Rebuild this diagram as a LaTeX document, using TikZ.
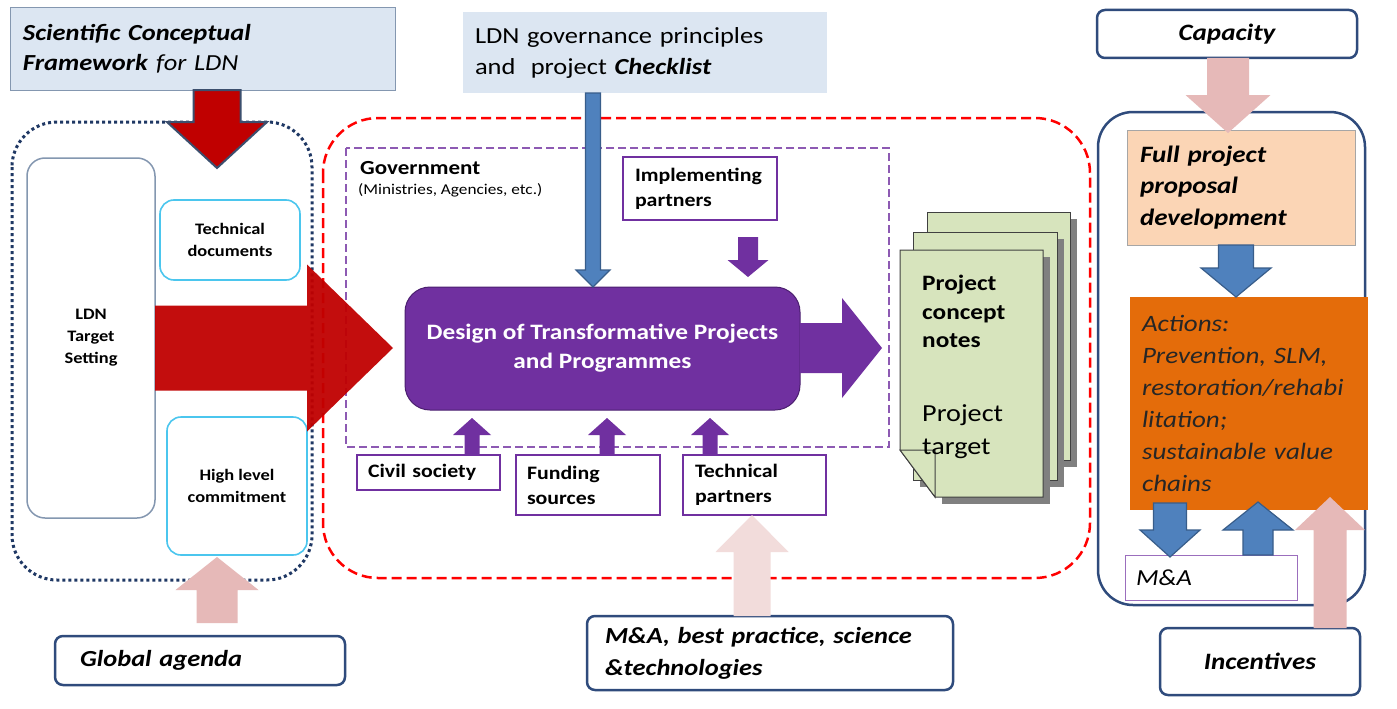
\documentclass[tikz,border=0pt]{standalone}
\usepackage{fontspec}
\setmainfont{Carlito}[FakeStretch=1.15]
\definecolor{navy}{HTML}{2F4B7C}
\definecolor{purp}{HTML}{7030A0}
\definecolor{purpdark}{HTML}{4B1F6F}
\definecolor{darkred}{HTML}{C00000}
\definecolor{pinkA}{HTML}{E6B9B8}
\definecolor{pinkB}{HTML}{F2DCDB}
\definecolor{blueA}{HTML}{4F81BD}
\definecolor{blueB}{HTML}{385D8A}
\definecolor{orangeA}{HTML}{E46C0A}
\definecolor{peach}{HTML}{FBD5B5}
\definecolor{greenA}{HTML}{D7E4BD}
\definecolor{cyanA}{HTML}{4BC6EE}
\definecolor{lightblue}{HTML}{DCE6F2}
\definecolor{grayblue}{HTML}{8497B0}
\definecolor{dotnavy}{HTML}{1F3864}
\definecolor{slateA}{HTML}{3C4F6E}
\newcommand\fs[2]{\fontsize{#1}{#2}\selectfont}
% vertical block arrow: style, cx, ystart, ybase, ytip, shaft half width, head half width
\newcommand\varrow[7]{\path[#1] ({#2-#6},#3) -- ({#2+#6},#3) -- ({#2+#6},#4) -- ({#2+#7},#4) -- (#2,#5) -- ({#2-#7},#4) -- ({#2-#6},#4) -- cycle;}
% horizontal block arrow: style, cy, xstart, xbase, xtip, shaft half width, head half width
\newcommand\harrow[7]{\path[#1] (#3,{#2-#6}) -- (#4,{#2-#6}) -- (#4,{#2-#7}) -- (#5,#2) -- (#4,{#2+#7}) -- (#4,{#2+#6}) -- (#3,{#2+#6}) -- cycle;}
\tikzset{
  navybox/.style={draw=navy, line width=2.5pt, rounded corners=8pt, fill=white},
  purpbox/.style={draw=purp, line width=2pt, fill=white},
  cyanbox/.style={draw=cyanA, line width=1.6pt, rounded corners=14pt, fill=white},
  redarrow/.style={fill=darkred, draw=slateA, line width=2pt},
  redbig/.style={fill=darkred, fill opacity=0.95},
  bluearrow/.style={fill=blueA, draw=blueB, line width=1.2pt},
  purparrow/.style={fill=purp},
  pinkarrow/.style={fill=pinkA},
  pinkarrowL/.style={fill=pinkB},
  page/.style={fill=greenA, draw=black!75, line width=1pt},
  shadow/.style={fill=black!50},
}
\begin{document}
\begin{tikzpicture}[x=1pt,y=-1pt]
\useasboundingbox (0,0) rectangle (1397,709);
\fill[white] (0,0) rectangle (1397,709);

% ---- containers
\draw[dotnavy, line width=3pt, dash pattern=on 3pt off 3pt, rounded corners=45pt] (12,122) rectangle (312,580);
\draw[red, line width=2.5pt, dash pattern=on 10pt off 5pt, rounded corners=55pt] (323,118) rectangle (1090,578);
\draw[purp!80, line width=2pt, dash pattern=on 8pt off 4pt] (346,148) rectangle (889,447);
\draw[navy, line width=2.5pt, rounded corners=35pt] (1098,112) rectangle (1365,605);

% ---- top boxes
\node[draw=grayblue, fill=lightblue, line width=1pt, minimum width=385pt, minimum height=82pt,
      text width=359pt, inner xsep=13pt, align=left, font=\fs{23}{30}] (sci) at (202.5,49)
  {\textbf{\textit{Scientific Conceptual}}\\\textbf{\textit{Framework}} \textit{for LDN}};
\node[fill=lightblue, minimum width=364pt, minimum height=81pt,
      text width=340pt, inner xsep=12pt, align=left, font=\fs{23}{31}] (gov) at (645,52.5)
  {LDN governance principles\\and\ \ project \textbf{\textit{Checklist}}};
\node[navybox, minimum width=260pt, minimum height=48pt, font=\fs{23.5}{26}\bfseries\itshape] (cap) at (1227,34) {Capacity};

% ---- left group
\node[draw=grayblue, line width=1.5pt, rounded corners=18pt, fill=white, minimum width=128pt, minimum height=360pt,
      align=center, font=\fs{16}{22}\bfseries] (ldn) at (91,338) {LDN\\Target\\Setting};
\node[cyanbox, minimum width=140pt, minimum height=80pt, align=center, font=\fs{16}{22}\bfseries] (tech) at (230,240) {Technical\\documents};
\node[cyanbox, minimum width=140pt, minimum height=138pt, align=center, font=\fs{16}{22}\bfseries] (high) at (237,486) {High level\\commitment};

% ---- government group
\node[anchor=west, inner sep=0pt, font=\fs{20}{24}\bfseries] (govlbl) at (360,168) {Government};
\node[anchor=west, inner sep=0pt, font=\fs{15}{17}] (govsub) at (358,190) {(Ministries, Agencies, etc.)};
\node[purpbox, minimum width=154pt, minimum height=63pt, text width=130pt, inner xsep=12pt, align=left,
      font=\fs{19}{25}\bfseries] (impl) at (700,188.5) {Implementing\\partners};
\node[draw=purpdark, line width=1pt, fill=purp, rounded corners=25pt, minimum width=395pt, minimum height=123pt,
      align=center, text=white, font=\fs{22}{29}\bfseries] (design) at (602.5,348.5)
  {Design of Transformative Projects\\and Programmes};
\node[purpbox, minimum width=143pt, minimum height=35pt, text width=121pt, inner xsep=11pt, align=left,
      font=\fs{19}{25}\bfseries] (civil) at (428.5,472.5) {Civil society};
\node[purpbox, minimum width=144pt, minimum height=60pt, text width=122pt, inner xsep=11pt, align=left,
      font=\fs{19}{25}\bfseries] (fund) at (588,485) {Funding\\sources};
\node[purpbox, minimum width=143pt, minimum height=60pt, text width=119pt, inner xsep=12pt, align=left,
      font=\fs{19}{25}\bfseries] (techp) at (754.5,485) {Technical\\partners};

% ---- pages
\fill[shadow] (934,219) rectangle (1077,467);
\draw[page] (927,212) rectangle (1070,460);
\fill[shadow] (920,239) rectangle (1064,487);
\draw[page] (913,232) rectangle (1057,480);
\fill[shadow] (942,257) -- (1050,257) -- (1050,504) -- (942,504) -- cycle;
\draw[page] (900,250) -- (1043,250) -- (1043,497) -- (935,497) -- (900,450) -- cycle;
\draw[page] (900,450) -- (935,450) -- (935,497) -- cycle;
\node[anchor=north west, align=left, inner sep=0pt, font=\fs{22}{28.5}\bfseries] (pcn) at (922,275) {Project\\concept\\notes};
\node[anchor=north west, align=left, inner sep=0pt, font=\fs{24.5}{33}] (ptg) at (922,404) {Project\\target};

% ---- bottom boxes
\node[navybox, minimum width=290pt, minimum height=49pt, text width=240pt, inner xsep=25pt, align=left,
      font=\fs{23}{26}\bfseries\itshape] (glob) at (200,660.5) {Global agenda};
\node[navybox, minimum width=366pt, minimum height=74pt, text width=330pt, inner xsep=18pt, align=left,
      font=\fs{23}{32}\bfseries\itshape] (mna) at (770,653) {M\&A, best practice, science\\\&technologies};

% ---- right column
\node[fill=peach, draw=black!35, line width=0.8pt, minimum width=228pt, minimum height=115pt, text width=202pt,
      inner xsep=13pt, align=left, font=\fs{23.5}{31.5}\bfseries\itshape] (full) at (1241,187.5)
  {Full project\\proposal\\development};
\node[fill=orangeA, minimum width=238pt, minimum height=213pt, text width=214pt, inner xsep=12pt, align=left,
      text=black!85, font=\fs{23.5}{32}\itshape] (act) at (1249,403.5)
  {Actions:\\Prevention, SLM,\\restoration/rehabi\\litation;\\sustainable value\\chains};
\node[draw=purp!70, line width=0.8pt, fill=white, minimum width=172pt, minimum height=45pt, text width=150pt,
      inner xsep=11pt, align=left, font=\fs{23}{25}\itshape] (ma) at (1211,577.5) {M\&A};
\node[navybox, minimum width=200pt, minimum height=67pt, font=\fs{23.5}{26}\bfseries\itshape] (inc) at (1260,661.5) {Incentives};

% ---- block arrows
\varrow{redarrow}{217}{90}{122}{168}{23.5}{50}
\harrow{redbig}{348}{155}{307}{393}{42.5}{83.5}
\varrow{bluearrow}{593}{93}{270}{287}{7.5}{17}
\varrow{purparrow}{748}{237}{260}{277}{10}{20.5}
\harrow{purparrow}{348}{800}{842}{882}{25}{50}
\varrow{purparrow}{472}{455}{435}{418}{7.5}{19}
\varrow{purparrow}{607}{455}{435}{418}{7.5}{19}
\varrow{purparrow}{710}{455}{435}{418}{7.5}{19}
\varrow{pinkarrow}{217}{623}{590}{557}{20.5}{41.5}
\varrow{pinkarrowL}{752}{616}{552}{515}{18.5}{36.5}
\varrow{pinkarrow}{1228}{58}{95}{133}{21}{42.5}
\varrow{bluearrow}{1236}{245}{268}{297}{17.5}{35}
\varrow{bluearrow}{1170}{503}{530}{557}{16.5}{30}
\varrow{bluearrow}{1258}{555}{530}{502}{15}{35}
\varrow{pinkarrow}{1330}{628}{530}{497}{16.5}{35}
\end{tikzpicture}
\end{document}
